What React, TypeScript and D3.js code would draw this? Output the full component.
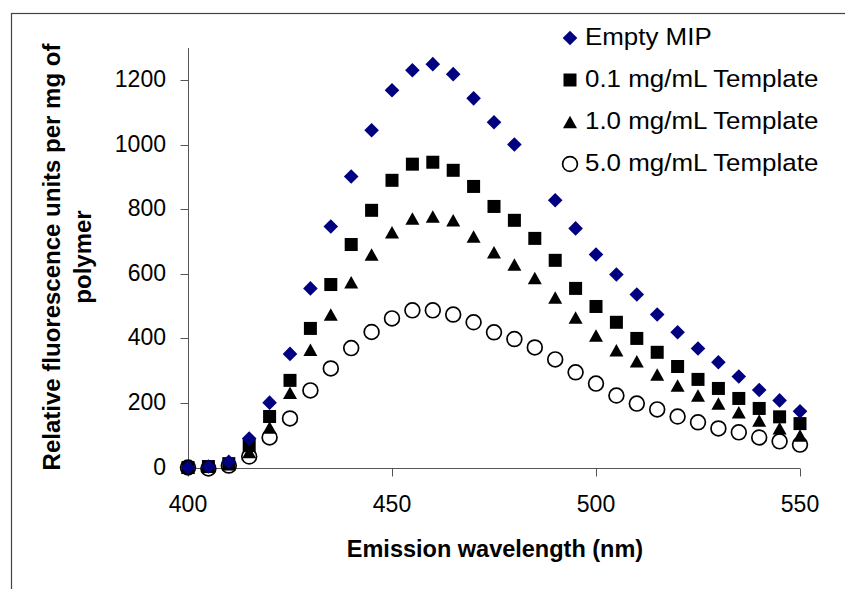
import React from "react";
import * as d3 from "d3";

const wavelengths = [400, 405, 410, 415, 420, 425, 430, 435, 440, 445, 450, 455, 460, 465, 470, 475, 480, 485, 490, 495, 500, 505, 510, 515, 520, 525, 530, 535, 540, 545, 550];
const emptyMIP: (number | null)[] = [0, 3, 18, 90, 201, 352, 555, 747, 902, 1045, 1169, 1231, 1250, 1219, 1144, 1070, 1001, null, 828, 741, 660, 598, 536, 474, 419, 369, 326, 282, 240, 208, 174];
const template01 = [0, 3, 12, 68, 158, 270, 431, 567, 691, 797, 890, 940, 946, 921, 871, 809, 766, 710, 642, 555, 499, 450, 400, 357, 313, 273, 245, 214, 183, 157, 136];
const template10 = [0, 2, 10, 48, 124, 232, 365, 474, 574, 660, 729, 772, 778, 766, 716, 667, 629, 587, 527, 465, 409, 363, 329, 288, 254, 223, 198, 171, 146, 122, 99];
const template50 = [0, -3, 6, 34, 93, 152, 239, 307, 370, 420, 462, 487, 487, 474, 450, 419, 398, 372, 335, 295, 260, 223, 198, 180, 158, 140, 121, 109, 93, 81, 71];

const seriesNames = ["Empty MIP", "0.1 mg/mL Template", "1.0 mg/mL Template", "5.0 mg/mL Template"];
const xTicks = [400, 450, 500, 550];
const yTicks = [0, 200, 400, 600, 800, 1000, 1200];

const W = 845;
const H = 589;
const FONT = "'Liberation Sans', Arial, Helvetica, sans-serif";

type Kind = "diamond" | "square" | "triangle" | "circle";

function Marker({ kind, x, y }: { kind: Kind; x: number; y: number }) {
  if (kind === "diamond") {
    const r = 7.3;
    return <path d={`M${x},${y - r}L${x + r},${y}L${x},${y + r}L${x - r},${y}Z`} fill="#000080" />;
  }
  if (kind === "square") {
    const s = 13;
    return <rect x={x - s / 2} y={y - s / 2} width={s} height={s} fill="#000" />;
  }
  if (kind === "triangle") {
    const w = 14, h = 12.5;
    return <path d={`M${x},${y - h / 2}L${x + w / 2},${y + h / 2}L${x - w / 2},${y + h / 2}Z`} fill="#000" />;
  }
  return <circle cx={x} cy={y} r={7.4} fill="#fff" stroke="#000" strokeWidth={1.7} />;
}

export default function App() {
  const x = d3.scaleLinear().domain([400, 550]).range([188, 800]);
  const y = d3.scaleLinear().domain([0, 1300]).range([467.5, 48]);

  const series: { name: string; kind: Kind; values: (number | null)[] }[] = [
    { name: seriesNames[0], kind: "diamond", values: emptyMIP },
    { name: seriesNames[1], kind: "square", values: template01 },
    { name: seriesNames[2], kind: "triangle", values: template10 },
    { name: seriesNames[3], kind: "circle", values: template50 },
  ];
  const drawOrder = [...series].reverse();

  const axisColor = "#555";
  const y0 = Math.round(y(0)) + 0.5;
  const xAxisX = Math.round(x(400)) + 0.5;

  return (
    <svg width={W} height={H} style={{ position: "fixed", left: 0, top: 0, background: "#fff" }} fontFamily={FONT}>
      <rect x={0} y={0} width={W} height={H} fill="#fff" />
      {/* outer frame */}
      <rect x={11.5} y={13.5} width={W + 20} height={H + 20} fill="none" stroke="#444" strokeWidth={1.2} />

      {/* y axis */}
      <line x1={xAxisX} x2={xAxisX} y1={y(1300)} y2={y0} stroke={axisColor} strokeWidth={1} />
      {yTicks.map((t) => (
        <g key={"yt" + t}>
          <line x1={xAxisX - 8} x2={xAxisX} y1={Math.round(y(t)) + 0.5} y2={Math.round(y(t)) + 0.5} stroke={axisColor} />
          <text x={166} y={y(t) + 7} textAnchor="end" fontSize={23} fill="#000">{t}</text>
        </g>
      ))}

      {/* x axis */}
      <line x1={xAxisX} x2={x(550)} y1={y0} y2={y0} stroke={axisColor} strokeWidth={1} />
      {xTicks.map((t) => (
        <g key={"xt" + t}>
          <line x1={Math.round(x(t)) + 0.5} x2={Math.round(x(t)) + 0.5} y1={y0} y2={y0 + 8} stroke={axisColor} />
          <text x={x(t)} y={512} textAnchor="middle" fontSize={23} fill="#000">{t}</text>
        </g>
      ))}

      {/* axis titles */}
      <text x={495} y={557} textAnchor="middle" fontSize={23.5} fontWeight="bold" fill="#000">Emission wavelength (nm)</text>
      <g transform="translate(0,257) rotate(-90)">
        <text x={0} y={60} textAnchor="middle" fontSize={24} fontWeight="bold" fill="#000">Relative fluorescence units per mg of</text>
        <text x={0} y={91} textAnchor="middle" fontSize={24} fontWeight="bold" fill="#000">polymer</text>
      </g>

      {/* data */}
      {drawOrder.map((s) => (
        <g key={s.name}>
          {s.values.map((v, i) =>
            v === null ? null : <Marker key={i} kind={s.kind} x={x(wavelengths[i])} y={y(v)} />
          )}
        </g>
      ))}

      {/* legend */}
      {series.map((s, i) => (
        <g key={"lg" + s.name}>
          <Marker kind={s.kind} x={570} y={38 + i * 42} />
          <text x={585} y={45.5 + i * 42} fontSize={24} fill="#000" transform={`translate(585,0) scale(1.08,1) translate(-585,0)`}>{s.name}</text>
        </g>
      ))}
    </svg>
  );
}
